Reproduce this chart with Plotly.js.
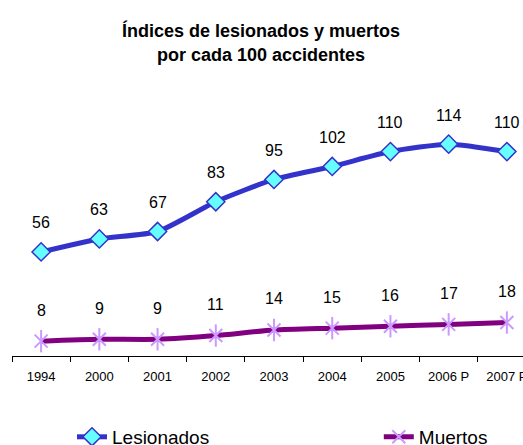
<!DOCTYPE html>
<html>
<head>
<meta charset="utf-8">
<script src="https://cdn.plot.ly/plotly-3.0.1.min.js"></script>
<style>
html, body { margin: 0; padding: 0; overflow: hidden; background: #fff; }
#chart { width: 545px; height: 470px; }
</style>
</head>
<body>
<div id="chart"></div>
<script>
const years = ["1994", "2000", "2001", "2002", "2003", "2004", "2005", "2006 P", "2007 P"];
const lesionados = [56, 63, 67, 83, 95, 102, 110, 114, 110];
const muertos = [8, 9, 9, 11, 14, 15, 16, 17, 18];

const FONT = "Liberation Sans, Arial, sans-serif";

const traces = [
  {
    x: years, y: lesionados, name: "Lesionados", type: "scatter", mode: "lines+markers",
    legend: "legend",
    line: { color: "#3333CC", width: 5, shape: "spline", smoothing: 0.6 },
    marker: { symbol: "diamond", size: 14, color: "#66FFFF", line: { color: "#3333CC", width: 1.5 } },
    hoverinfo: "x+y"
  },
  {
    x: years, y: muertos, name: "Muertos", type: "scatter", mode: "lines+markers",
    legend: "legend2",
    line: { color: "#800080", width: 5, shape: "spline", smoothing: 0.6 },
    marker: { symbol: "x-thin-open", size: 13, color: "#CC99FF", line: { color: "#CC99FF", width: 2 } },
    hoverinfo: "x+y"
  },
  {
    x: years, y: muertos, name: "Muertos", type: "scatter", mode: "markers", showlegend: false,
    marker: { symbol: "line-ns-open", size: 16, color: "#CC99FF", line: { color: "#CC99FF", width: 2 } },
    hoverinfo: "skip"
  }
];

const annotations = [];
years.forEach((yr, i) => {
  annotations.push({ x: i, y: lesionados[i], xref: "x", yref: "y", text: String(lesionados[i]), showarrow: false,
    yshift: 29, font: { family: FONT, size: 16, color: "#000" } });
  annotations.push({ x: i, y: muertos[i], xref: "x", yref: "y", text: String(muertos[i]), showarrow: false,
    yshift: 31, font: { family: FONT, size: 16, color: "#000" } });
});

const legendFont = { family: FONT, size: 19, color: "#000" };

const layout = {
  width: 545, height: 470,
  margin: { l: 12, r: 9, t: 133, b: 114, autoexpand: false },
  paper_bgcolor: "#fff", plot_bgcolor: "#fff",
  font: { family: FONT, color: "#000" },
  title: {
    text: "<b>Índices de lesionados y muertos<br>por cada 100 accidentes</b>",
    font: { family: FONT, size: 18, color: "#000" },
    x: 0.479, xanchor: "center", y: 0.921, yanchor: "top"
  },
  xaxis: {
    type: "category", range: [-0.5, 8.5],
    showline: true, linecolor: "#000", linewidth: 1,
    ticks: "outside", ticklen: 5, tickcolor: "#000", tickson: "boundaries",
    showgrid: false, zeroline: false,
    tickfont: { family: FONT, size: 13, color: "#000" },
    ticklabelstandoff: 8
  },
  yaxis: {
    range: [0, 120], visible: false, showgrid: false, zeroline: false
  },
  showlegend: true,
  legend: {
    orientation: "h", x: 0.1145, xanchor: "left", y: -0.363, yanchor: "middle",
    font: legendFont, bgcolor: "rgba(0,0,0,0)"
  },
  legend2: {
    orientation: "h", x: 0.700, xanchor: "left", y: -0.363, yanchor: "middle",
    font: legendFont, bgcolor: "rgba(0,0,0,0)"
  },
  annotations: annotations
};

Plotly.newPlot("chart", traces, layout, { displayModeBar: false, staticPlot: true });
</script>
</body>
</html>
